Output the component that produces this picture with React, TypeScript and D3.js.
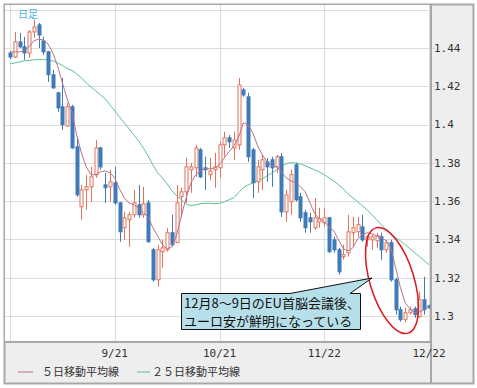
import React from 'react';
import * as d3 from 'd3';

// EUR/USD daily candles, weekdays 2011-08-22 .. 2011-12-22
const open = [
  1.4374, 1.4353, 1.4432, 1.4406, 1.4374, 1.4484, 1.4521, 1.4437, 1.4380, 1.4260,
  1.4166, 1.4093, 1.3993, 1.4093, 1.3884, 1.3571, 1.3659, 1.3675, 1.3738, 1.3878,
  1.3685, 1.3675, 1.3696, 1.3591, 1.3461, 1.3503, 1.3529, 1.3581, 1.3529, 1.3591,
  1.3346, 1.3189, 1.3336, 1.3346, 1.3435, 1.3383, 1.3623, 1.3649, 1.3764, 1.3774,
  1.3868, 1.3774, 1.3738, 1.3764, 1.3774, 1.3894, 1.3931, 1.3878, 1.3894, 1.4181,
  1.4145, 1.3868, 1.3701, 1.3764, 1.3805, 1.3816, 1.3779, 1.3832, 1.3544, 1.3597,
  1.3790, 1.3623, 1.3539, 1.3513, 1.3461, 1.3492, 1.3487, 1.3513, 1.3398, 1.3346,
  1.3310, 1.3330, 1.3435, 1.3440, 1.3466, 1.3398, 1.3398, 1.3393, 1.3414, 1.3346,
  1.3383, 1.3189, 1.3033, 1.2981, 1.3017, 1.3038, 1.2996, 1.3085, 1.3054
];
const high = [
  1.4385, 1.4484, 1.4479, 1.4458, 1.4494, 1.4547, 1.4531, 1.4458, 1.4385, 1.4286,
  1.4171, 1.4244, 1.4113, 1.4103, 1.3936, 1.3685, 1.3738, 1.3779, 1.3920, 1.3884,
  1.3748, 1.3764, 1.3779, 1.3597, 1.3544, 1.3544, 1.3659, 1.3685, 1.3675, 1.3607,
  1.3356, 1.3372, 1.3398, 1.3461, 1.3529, 1.3685, 1.3670, 1.3826, 1.3800, 1.3894,
  1.3878, 1.3832, 1.3826, 1.3852, 1.3910, 1.3962, 1.3946, 1.3962, 1.4244, 1.4192,
  1.4166, 1.3878, 1.3816, 1.3842, 1.3826, 1.3832, 1.3842, 1.3852, 1.3659, 1.3764,
  1.3800, 1.3644, 1.3555, 1.3539, 1.3617, 1.3565, 1.3565, 1.3518, 1.3414, 1.3356,
  1.3372, 1.3529, 1.3518, 1.3518, 1.3529, 1.3424, 1.3424, 1.3435, 1.3435, 1.3398,
  1.3398, 1.3200, 1.3049, 1.3043, 1.3049, 1.3049, 1.3127, 1.3205, 1.3059
];
const low = [
  1.4343, 1.4348, 1.4400, 1.4338, 1.4348, 1.4453, 1.4400, 1.4364, 1.4223, 1.4186,
  1.4066, 1.3972, 1.3988, 1.3873, 1.3623, 1.3503, 1.3555, 1.3597, 1.3722, 1.3764,
  1.3591, 1.3597, 1.3581, 1.3388, 1.3398, 1.3362, 1.3513, 1.3513, 1.3513, 1.3383,
  1.3179, 1.3153, 1.3252, 1.3336, 1.3362, 1.3383, 1.3518, 1.3591, 1.3644, 1.3727,
  1.3720, 1.3659, 1.3711, 1.3670, 1.3722, 1.3832, 1.3878, 1.3816, 1.3868, 1.4145,
  1.3805, 1.3617, 1.3644, 1.3659, 1.3701, 1.3675, 1.3748, 1.3518, 1.3492, 1.3529,
  1.3597, 1.3492, 1.3435, 1.3435, 1.3450, 1.3461, 1.3466, 1.3330, 1.3330, 1.3216,
  1.3294, 1.3310, 1.3362, 1.3414, 1.3388, 1.3362, 1.3346, 1.3356, 1.3294, 1.3330,
  1.3179, 1.3007, 1.2970, 1.2965, 1.3007, 1.2991, 1.2991, 1.3007, 1.3038
];
const close = [
  1.4353, 1.4432, 1.4406, 1.4374, 1.4484, 1.4510, 1.4468, 1.4380, 1.4260, 1.4192,
  1.4087, 1.3999, 1.4093, 1.3878, 1.3633, 1.3659, 1.3675, 1.3727, 1.3878, 1.3779,
  1.3670, 1.3701, 1.3591, 1.3440, 1.3513, 1.3529, 1.3591, 1.3529, 1.3586, 1.3388,
  1.3189, 1.3346, 1.3356, 1.3435, 1.3372, 1.3591, 1.3649, 1.3779, 1.3779, 1.3878,
  1.3727, 1.3764, 1.3758, 1.3779, 1.3894, 1.3931, 1.3910, 1.3920, 1.4207, 1.4155,
  1.3832, 1.3696, 1.3779, 1.3816, 1.3779, 1.3774, 1.3832, 1.3544, 1.3633, 1.3738,
  1.3607, 1.3513, 1.3461, 1.3492, 1.3513, 1.3508, 1.3513, 1.3336, 1.3346, 1.3231,
  1.3320, 1.3440, 1.3461, 1.3477, 1.3398, 1.3414, 1.3414, 1.3419, 1.3346, 1.3383,
  1.3189, 1.3033, 1.2981, 1.3017, 1.3033, 1.3007, 1.3085, 1.3033, 1.3043
];
// moving averages
const ma5 = [
  1.4380, 1.4380, 1.4380, 1.4385, 1.4406, 1.4437, 1.4447, 1.4442, 1.4421, 1.4374,
  1.4306, 1.4218, 1.4134, 1.4066, 1.3946, 1.3852, 1.3779, 1.3738, 1.3738, 1.3753,
  1.3758, 1.3748, 1.3722, 1.3664, 1.3617, 1.3591, 1.3581, 1.3565, 1.3539, 1.3518,
  1.3461, 1.3419, 1.3372, 1.3351, 1.3362, 1.3424, 1.3524, 1.3617, 1.3696, 1.3738,
  1.3758, 1.3769, 1.3769, 1.3774, 1.3790, 1.3826, 1.3858, 1.3889, 1.3931, 1.4009,
  1.3999, 1.3957, 1.3889, 1.3842, 1.3805, 1.3785, 1.3779, 1.3753, 1.3722, 1.3706,
  1.3696, 1.3675, 1.3649, 1.3591, 1.3534, 1.3508, 1.3492, 1.3466, 1.3445, 1.3398,
  1.3351, 1.3341, 1.3356, 1.3403, 1.3424, 1.3435, 1.3430, 1.3419, 1.3409, 1.3393,
  1.3356, 1.3252, 1.3148, 1.3069, 1.3038, 1.3017, 1.3022, 1.3033, 1.3049
];
const ma25 = [
  1.4317, 1.4322, 1.4327, 1.4333, 1.4335, 1.4338, 1.4340, 1.4340, 1.4338, 1.4333,
  1.4322, 1.4309, 1.4293, 1.4283, 1.4265, 1.4244, 1.4218, 1.4197, 1.4176, 1.4155,
  1.4134, 1.4103, 1.4072, 1.4040, 1.4009, 1.3978, 1.3946, 1.3915, 1.3878, 1.3837,
  1.3790, 1.3748, 1.3722, 1.3691, 1.3654, 1.3628, 1.3607, 1.3586, 1.3576, 1.3581,
  1.3586, 1.3589, 1.3589, 1.3586, 1.3589, 1.3597, 1.3607, 1.3617, 1.3644, 1.3670,
  1.3685, 1.3696, 1.3706, 1.3717, 1.3732, 1.3748, 1.3764, 1.3782, 1.3795, 1.3800,
  1.3800, 1.3795, 1.3785, 1.3774, 1.3764, 1.3753, 1.3738, 1.3722, 1.3706, 1.3685,
  1.3664, 1.3638, 1.3617, 1.3597, 1.3576, 1.3555, 1.3529, 1.3503, 1.3477, 1.3450,
  1.3430, 1.3409, 1.3393, 1.3372, 1.3351, 1.3330, 1.3310, 1.3289, 1.3268
];

const yTicks = [1.3, 1.32, 1.34, 1.36, 1.38, 1.4, 1.42, 1.44, 1.46];
const yTickLabels = ['1.3', '1.32', '1.34', '1.36', '1.38', '1.4', '1.42', '1.44', ''];
const xGrid = ['8/22', '9/21', '10/21', '11/22', '12/22'];
const xTickLabels = ['9/21', '10/21', '11/22', '12/22'];
const legendNames = ['５日移動平均線', '２５日移動平均線'];
const noteLines = ['12月8〜9日のEU首脳会議後、', 'ユーロ安が鮮明になっている'];

// trading days (weekdays) used as categories
const fmt = d3.utcFormat('%-m/%-d');
const dates = d3.utcDay
  .range(new Date(Date.UTC(2011, 7, 22)), new Date(Date.UTC(2011, 11, 23)))
  .filter((d) => d.getUTCDay() % 6 !== 0)
  .map(fmt);

const plot = { left: 5, top: 5, right: 431, bottom: 342 };
const upColor = '#e2735a';
const downColor = '#3f7bb8';
const ma5Color = '#b8708e';
const ma25Color = '#5cc28e';
const gridColor = '#dcdcdc';
const mono = '"DejaVu Sans Mono", monospace';
const jp = '"Noto Sans CJK JP", sans-serif';

export default function App() {
  const x = d3.scalePoint<string>().domain(dates).range([10, 429]);
  const y = d3.scaleLinear().domain([1.3, 1.44]).range([316, 48]);
  const bodyW = 3;

  const line = d3.line<number>()
    .x((_, i) => x(dates[i]) as number)
    .y((d) => y(d));

  return (
    <svg width={477} height={388} style={{ position: 'absolute', left: 0, top: 0, background: '#fff' }}>
      <defs>
        <clipPath id="plotClip">
          <rect x={plot.left} y={plot.top} width={plot.right - plot.left} height={plot.bottom - plot.top} />
        </clipPath>
      </defs>

      {/* outer frame + panels */}
      <rect x={4.5} y={4.5} width={469} height={379} fill="#eeeeee" stroke="#a8a8a8" strokeWidth={2} />
      <rect x={plot.left} y={plot.top} width={plot.right - plot.left} height={plot.bottom - plot.top} fill="#fff" />

      {/* grid */}
      <g clipPath="url(#plotClip)">
        {yTicks.map((t) => (
          <line key={'gy' + t} x1={plot.left} x2={plot.right} y1={Math.round(y(t)) + 0.5} y2={Math.round(y(t)) + 0.5} stroke={gridColor} />
        ))}
        {xGrid.map((d) => (
          <line key={'gx' + d} x1={Math.round(x(d) as number) + 0.5} x2={Math.round(x(d) as number) + 0.5} y1={plot.top} y2={plot.bottom} stroke={gridColor} />
        ))}
      </g>
      {yTicks.map((t) => (
        y(t) > plot.top + 20 ? (
          <line key={'ty' + t} x1={plot.right} x2={435} y1={Math.round(y(t)) + 0.5} y2={Math.round(y(t)) + 0.5} stroke={gridColor} />
        ) : null
      ))}

      {/* moving averages + candles */}
      <g clipPath="url(#plotClip)">
        <path d={line(ma25) || ''} fill="none" stroke={ma25Color} strokeWidth={1} />
        {dates.map((d, i) => {
          const cx = Math.round(x(d) as number) + 0.5;
          const up = close[i] >= open[i];
          const col = up ? upColor : downColor;
          const top = y(Math.max(open[i], close[i]));
          const bot = y(Math.min(open[i], close[i]));
          return (
            <g key={d}>
              <line x1={cx} x2={cx} y1={y(high[i])} y2={y(low[i])} stroke={col} strokeWidth={1} />
              <rect x={cx - bodyW / 2} y={top} width={bodyW} height={Math.max(1, bot - top)}
                fill={up ? '#fff' : col} stroke={col} strokeWidth={1} />
            </g>
          );
        })}
        <path d={line(ma5) || ''} fill="none" stroke={ma5Color} strokeWidth={1} />
      </g>

      {/* plot border */}
      <line x1={plot.right} x2={plot.right} y1={4} y2={384} stroke="#a8a8a8" strokeWidth={2} />
      <line x1={4} x2={plot.right} y1={plot.bottom} y2={plot.bottom} stroke="#a8a8a8" strokeWidth={2} />

      <text x={18} y={17.5} fontSize={10} fill="#4fb3db" fontFamily={jp}>日足</text>

      {/* y axis labels */}
      {yTicks.map((t, i) => (
        yTickLabels[i] ? (
          <text key={'ly' + t} x={434} y={y(t)} dy="0.35em" fontSize={11} fontFamily={mono} fill="#333">{yTickLabels[i]}</text>
        ) : null
      ))}

      {/* x axis labels */}
      {xTickLabels.map((d) => (
        <text key={'lx' + d} x={x(d) as number} y={357} textAnchor="middle" fontSize={11} fontFamily={mono} fill="#333">{d}</text>
      ))}

      {/* legend */}
      <line x1={18} x2={33} y1={372} y2={372} stroke={ma5Color} strokeWidth={1} />
      <text x={42} y={376} fontSize={11} fontFamily={jp} fill="#333">{legendNames[0]}</text>
      <line x1={137} x2={150} y1={372} y2={372} stroke={ma25Color} strokeWidth={1} />
      <text x={152} y={376} fontSize={11} fontFamily={jp} fill="#333">{legendNames[1]}</text>

      {/* annotation */}
      <ellipse cx={392} cy={280.5} rx={55} ry={22} transform="rotate(73 392 280.5)" fill="none" stroke="#e0141e" strokeWidth={1.5} />
      <path d="M181.5,293.5 L290,293.5 L372,278 L350,293.5 L360.5,293.5 L360.5,329.5 L181.5,329.5 Z"
        fill="#b6dfe9" stroke="#111" strokeWidth={1} />
      {noteLines.map((s, i) => (
        <text key={s} x={184} y={307.5 + i * 18.5} fontSize={13} fontFamily={jp} fill="#111">{s}</text>
      ))}
    </svg>
  );
}
